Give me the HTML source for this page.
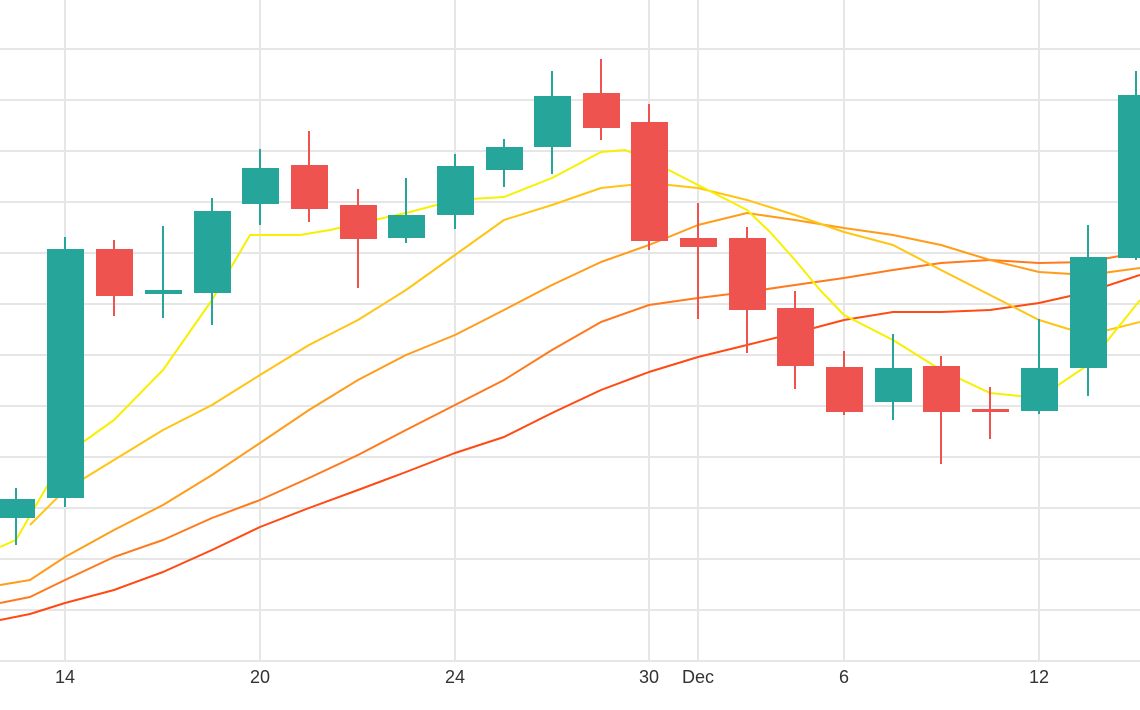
<!DOCTYPE html>
<html><head><meta charset="utf-8"><style>
html,body{margin:0;padding:0;background:#fff;}
svg{display:block;}
text{font-family:"Liberation Sans",sans-serif;font-size:18px;fill:#333;}
</style></head><body>
<svg width="1140" height="710" viewBox="0 0 1140 710" xmlns="http://www.w3.org/2000/svg">
<g stroke="#e6e6e6" stroke-width="2">
<line x1="0" y1="49" x2="1140" y2="49"/><line x1="0" y1="100" x2="1140" y2="100"/>
<line x1="0" y1="151" x2="1140" y2="151"/><line x1="0" y1="202" x2="1140" y2="202"/>
<line x1="0" y1="253" x2="1140" y2="253"/><line x1="0" y1="304" x2="1140" y2="304"/>
<line x1="0" y1="355" x2="1140" y2="355"/><line x1="0" y1="406" x2="1140" y2="406"/>
<line x1="0" y1="457" x2="1140" y2="457"/><line x1="0" y1="508" x2="1140" y2="508"/>
<line x1="0" y1="559" x2="1140" y2="559"/><line x1="0" y1="610" x2="1140" y2="610"/>
<line x1="0" y1="661" x2="1140" y2="661"/>
<line x1="65" y1="0" x2="65" y2="661"/><line x1="260" y1="0" x2="260" y2="661"/>
<line x1="455" y1="0" x2="455" y2="661"/><line x1="649" y1="0" x2="649" y2="661"/>
<line x1="698" y1="0" x2="698" y2="661"/><line x1="844" y1="0" x2="844" y2="661"/>
<line x1="1039" y1="0" x2="1039" y2="661"/>
</g>
<g fill="none" stroke-width="2" stroke-linejoin="round">
<polyline stroke="#ff4a14" points="0,620 30,614 65,603 114,590 163,572 212,550 260,527 309,508 358,490 406,472 455,453 504,437 552,413 601,390 649,372 698,357 747,345 795,333 844,320 893,312 941,312 990,310 1039,303 1088,292 1140,275"/>
<polyline stroke="#ff7a1e" points="0,603 30,597 65,580 114,557 163,540 212,518 260,500 309,478 358,455 406,430 455,405 504,380 552,350 601,322 649,305 698,298 747,292 795,285 844,278 893,270 941,263 990,260 1039,263 1088,262 1140,252"/>
<polyline stroke="#ff9d1a" points="0,585 30,580 65,557 114,530 163,505 212,475 260,443 309,410 358,380 406,355 455,335 504,310 552,285 601,262 649,245 698,225 747,213 795,220 844,228 893,235 941,245 990,260 1039,272 1088,275 1140,268"/>
<polyline stroke="#ffc414" points="30,525 65,490 114,460 163,430 212,405 260,375 309,345 358,320 406,290 455,255 504,220 552,205 601,188 649,183 698,188 747,200 795,215 844,232 893,245 941,270 990,295 1039,320 1088,335 1140,322"/>
<polyline stroke="#f7f000" points="0,547 16,540 65,455 114,420 163,370 212,300 250,235 275,235 300,235 330,230 410,212 455,200 504,197 552,178 601,152 625,150 649,160 698,185 747,210 770,232 795,260 820,290 844,315 893,340 941,370 990,393 1039,398 1088,365 1140,300"/>
</g>
<g stroke-width="2">
<g stroke="#26a69a" fill="#26a69a">
<line x1="16" y1="488" x2="16" y2="545"/><rect x="-1" y="500" width="35" height="17"/>
<line x1="65" y1="237" x2="65" y2="507"/><rect x="48" y="250" width="35" height="247"/>
<line x1="163" y1="226" x2="163" y2="318"/><rect x="146" y="291" width="35" height="2"/>
<line x1="212" y1="198" x2="212" y2="325"/><rect x="195" y="212" width="35" height="80"/>
<line x1="260" y1="149" x2="260" y2="225"/><rect x="243" y="169" width="35" height="34"/>
<line x1="406" y1="178" x2="406" y2="243"/><rect x="389" y="216" width="35" height="21"/>
<line x1="455" y1="154" x2="455" y2="229"/><rect x="438" y="167" width="35" height="47"/>
<line x1="504" y1="139" x2="504" y2="187"/><rect x="487" y="148" width="35" height="21"/>
<line x1="552" y1="71" x2="552" y2="174"/><rect x="535" y="97" width="35" height="49"/>
<line x1="893" y1="334" x2="893" y2="420"/><rect x="876" y="369" width="35" height="32"/>
<line x1="1039" y1="319" x2="1039" y2="414"/><rect x="1022" y="369" width="35" height="41"/>
<line x1="1088" y1="225" x2="1088" y2="396"/><rect x="1071" y="258" width="35" height="109"/>
<line x1="1136" y1="71" x2="1136" y2="260"/><rect x="1119" y="96" width="35" height="161"/>
</g>
<g stroke="#ef5350" fill="#ef5350">
<line x1="114" y1="240" x2="114" y2="316"/><rect x="97" y="250" width="35" height="45"/>
<line x1="309" y1="131" x2="309" y2="222"/><rect x="292" y="166" width="35" height="42"/>
<line x1="358" y1="189" x2="358" y2="288"/><rect x="341" y="206" width="35" height="32"/>
<line x1="601" y1="59" x2="601" y2="140"/><rect x="584" y="94" width="35" height="33"/>
<line x1="649" y1="104" x2="649" y2="250"/><rect x="632" y="123" width="35" height="117"/>
<line x1="698" y1="203" x2="698" y2="319"/><rect x="681" y="239" width="35" height="7"/>
<line x1="747" y1="227" x2="747" y2="353"/><rect x="730" y="239" width="35" height="70"/>
<line x1="795" y1="291" x2="795" y2="389"/><rect x="778" y="309" width="35" height="56"/>
<line x1="844" y1="351" x2="844" y2="415"/><rect x="827" y="368" width="35" height="43"/>
<line x1="941" y1="356" x2="941" y2="464"/><rect x="924" y="367" width="35" height="44"/>
<line x1="990" y1="387" x2="990" y2="439"/><rect x="973" y="410" width="35" height="1"/>
</g>
</g>
<g text-anchor="middle">
<text x="65" y="683">14</text><text x="260" y="683">20</text><text x="455" y="683">24</text>
<text x="649" y="683">30</text><text x="698" y="683">Dec</text><text x="844" y="683">6</text>
<text x="1039" y="683">12</text>
</g>
</svg>
</body></html>
